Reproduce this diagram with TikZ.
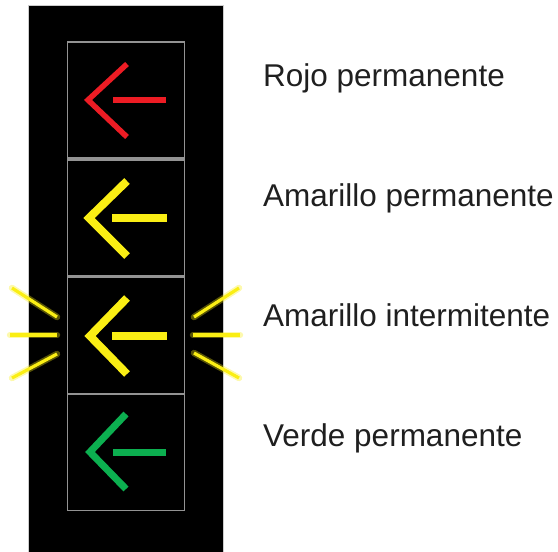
\documentclass[tikz,border=0pt]{standalone}
\usepackage{fontspec}
\setmainfont{Liberation Sans}
\begin{document}
\begin{tikzpicture}[x=1pt,y=-1pt,
  lamp/.style={draw=gray!85,line width=1.2pt,minimum width=117pt,minimum height=116pt,inner sep=0pt},
  label/.style={anchor=base west,inner sep=0pt,text=black!88,font=\fontsize{31.5}{36}\selectfont},
  chev/.style={line width=#1,line join=miter,miter limit=10,line cap=butt},
  ray/.style={line width=3.2pt,color=lyellow},
  glow/.style={line width=6.5pt,color=lyellow,opacity=0.35,line cap=round}]
\definecolor{lred}{RGB}{237,28,36}
\definecolor{lyellow}{RGB}{250,238,20}
\definecolor{lgreen}{RGB}{12,175,80}
\useasboundingbox (0,0) rectangle (558,552);
\fill[black] (28,5) rectangle (223,552);
\draw[gray!40,line width=0.6pt] (28,552) -- (28,5) -- (223,5) -- (223,552);
% lamp boxes
\node[lamp] (b1) at (125.8,100) {};
\node[lamp] (b2) at (125.8,218) {};
\node[lamp] (b3) at (125.8,335.5) {};
\node[lamp] (b4) at (125.8,452.5) {};
% arrows
\draw[chev=5.5pt,lred] (127,64) -- (88,100) -- (127,137);
\draw[line width=5.5pt,lred] (113,100) -- (166,100);
\draw[chev=8pt,lyellow] (127,181) -- (89,218) -- (127,256);
\draw[line width=8pt,lyellow] (112,218) -- (167,218);
\draw[chev=8pt,lyellow] (127,298) -- (90,336) -- (127,374);
\draw[line width=8pt,lyellow] (112,336) -- (167,336);
\draw[chev=7pt,lgreen] (126,414) -- (90,452) -- (126,489);
\draw[line width=7pt,lgreen] (113,452) -- (166,452);
% rays
\coordinate (l1a) at (12,288); \coordinate (l1b) at (57,317);
\coordinate (l2a) at (10,335); \coordinate (l2b) at (57,335);
\coordinate (l3a) at (12,378); \coordinate (l3b) at (57,354);
\coordinate (r1a) at (194,317); \coordinate (r1b) at (239,288);
\coordinate (r2a) at (193,335); \coordinate (r2b) at (240,335);
\coordinate (r3a) at (194,353); \coordinate (r3b) at (239,378);
\foreach \a/\b in {l1a/l1b,l2a/l2b,l3a/l3b,r1a/r1b,r2a/r2b,r3a/r3b}{
  \draw[glow] (\a) -- (\b);
  \draw[ray] (\a) -- (\b);
}
% labels
\node[label] (t1) at (263,86) {Rojo permanente};
\node[label] (t2) at (263,206) {Amarillo permanente};
\node[label] (t3) at (263,326) {Amarillo intermitente};
\node[label] (t4) at (263,446) {Verde permanente};
\end{tikzpicture}
\end{document}
